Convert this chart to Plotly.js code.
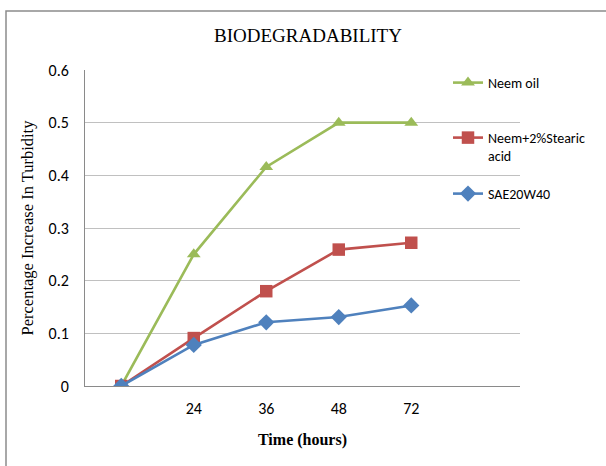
<!DOCTYPE html>
<html>
<head>
<meta charset="utf-8">
<script src="https://cdn.plot.ly/plotly-3.0.1.min.js"></script>
<style>html,body{margin:0;padding:0;background:#fff;}#chart{width:606px;height:466px;}</style>
</head>
<body>
<div id="chart"></div>
<script>
var categories = ["", "24", "36", "48", "72"];
var neemOil = [0, 0.25, 0.416, 0.5, 0.5];
var neemStearic = [0, 0.091, 0.18, 0.259, 0.272];
var sae20w40 = [0, 0.078, 0.121, 0.131, 0.153];
var seriesNames = ["Neem oil", "Neem+2%Stearic<br>acid", "SAE20W40"];

var xIdx = categories.map(function (c, i) { return i; });

// plot area geometry (pixels)
var L = 85, R = 520, T = 70, B = 386, W = 606, H = 466;
function px(x) { return (x - L) / (R - L); }
function py(y) { return (B - y) / (B - T); }

var lineW = 2.6;
var traces = [
  {x: xIdx, y: neemOil, name: seriesNames[0], type: "scatter", mode: "lines+markers",
   line: {color: "#9BBB59", width: lineW}, marker: {symbol: "triangle-up", size: 12, color: "#9BBB59"},
   legend: "legend"},
  {x: xIdx, y: neemStearic, name: seriesNames[1], type: "scatter", mode: "lines+markers",
   line: {color: "#C0504D", width: lineW}, marker: {symbol: "square", size: 12.5, color: "#C0504D"},
   legend: "legend2"},
  {x: xIdx, y: sae20w40, name: seriesNames[2], type: "scatter", mode: "lines+markers",
   line: {color: "#4F81BD", width: lineW}, marker: {symbol: "diamond", size: 12.5, color: "#4F81BD"},
   legend: "legend3"}
];

var sansFont = "Carlito, Lato, 'Liberation Sans', sans-serif";
var serifFont = "'Liberation Serif', 'Times New Roman', serif";
var legFont = {family: sansFont, size: 14, color: "#000"};
function leg(yPix) {
  return {x: px(448), xanchor: "left", y: py(yPix), yanchor: "top", valign: "top",
          font: legFont, bgcolor: "rgba(0,0,0,0)", borderwidth: 0, itemwidth: 30};
}

var layout = {
  width: W, height: H,
  margin: {l: L, r: W - R, t: T, b: H - B},
  paper_bgcolor: "#fff", plot_bgcolor: "#fff",
  title: {text: "BIODEGRADABILITY", x: 308 / W, xref: "container", xanchor: "center",
          y: 1 - 35 / H, yref: "container", yanchor: "middle",
          font: {family: serifFont, size: 19, color: "#000"}},
  xaxis: {range: [-0.5, 5.5], tickvals: xIdx, ticktext: categories, showgrid: false,
          showline: true, linecolor: "#8a8a8a", linewidth: 1, ticks: "", zeroline: false,
          ticklabelstandoff: 8,
          tickfont: {family: sansFont, size: 16, color: "#000"},
          title: {text: "<b>Time (hours)</b>", standoff: 16,
                  font: {family: serifFont, size: 16, color: "#000"}}},
  yaxis: {range: [0, 0.6], dtick: 0.1, tick0: 0, showgrid: true, gridcolor: "#c0c0c0", gridwidth: 1,
          showline: true, linecolor: "#8a8a8a", linewidth: 1, ticks: "", zeroline: false,
          ticklabelstandoff: 12,
          tickfont: {family: sansFont, size: 16, color: "#000"},
          title: {text: "Percentage Increase In Turbidity", standoff: 10,
                  font: {family: serifFont, size: 16.5, color: "#000"}}},
  legend: leg(67),
  legend2: leg(122),
  legend3: leg(178),
  showlegend: true,
  shapes: [{type: "rect", xref: "paper", yref: "paper", x0: px(6), x1: px(700), y0: py(600), y1: py(11),
            line: {color: "#8c8c8c", width: 1.5}, fillcolor: "rgba(0,0,0,0)", layer: "below"}]
};

Plotly.newPlot("chart", traces, layout, {displayModeBar: false, staticPlot: true});
</script>
</body>
</html>
